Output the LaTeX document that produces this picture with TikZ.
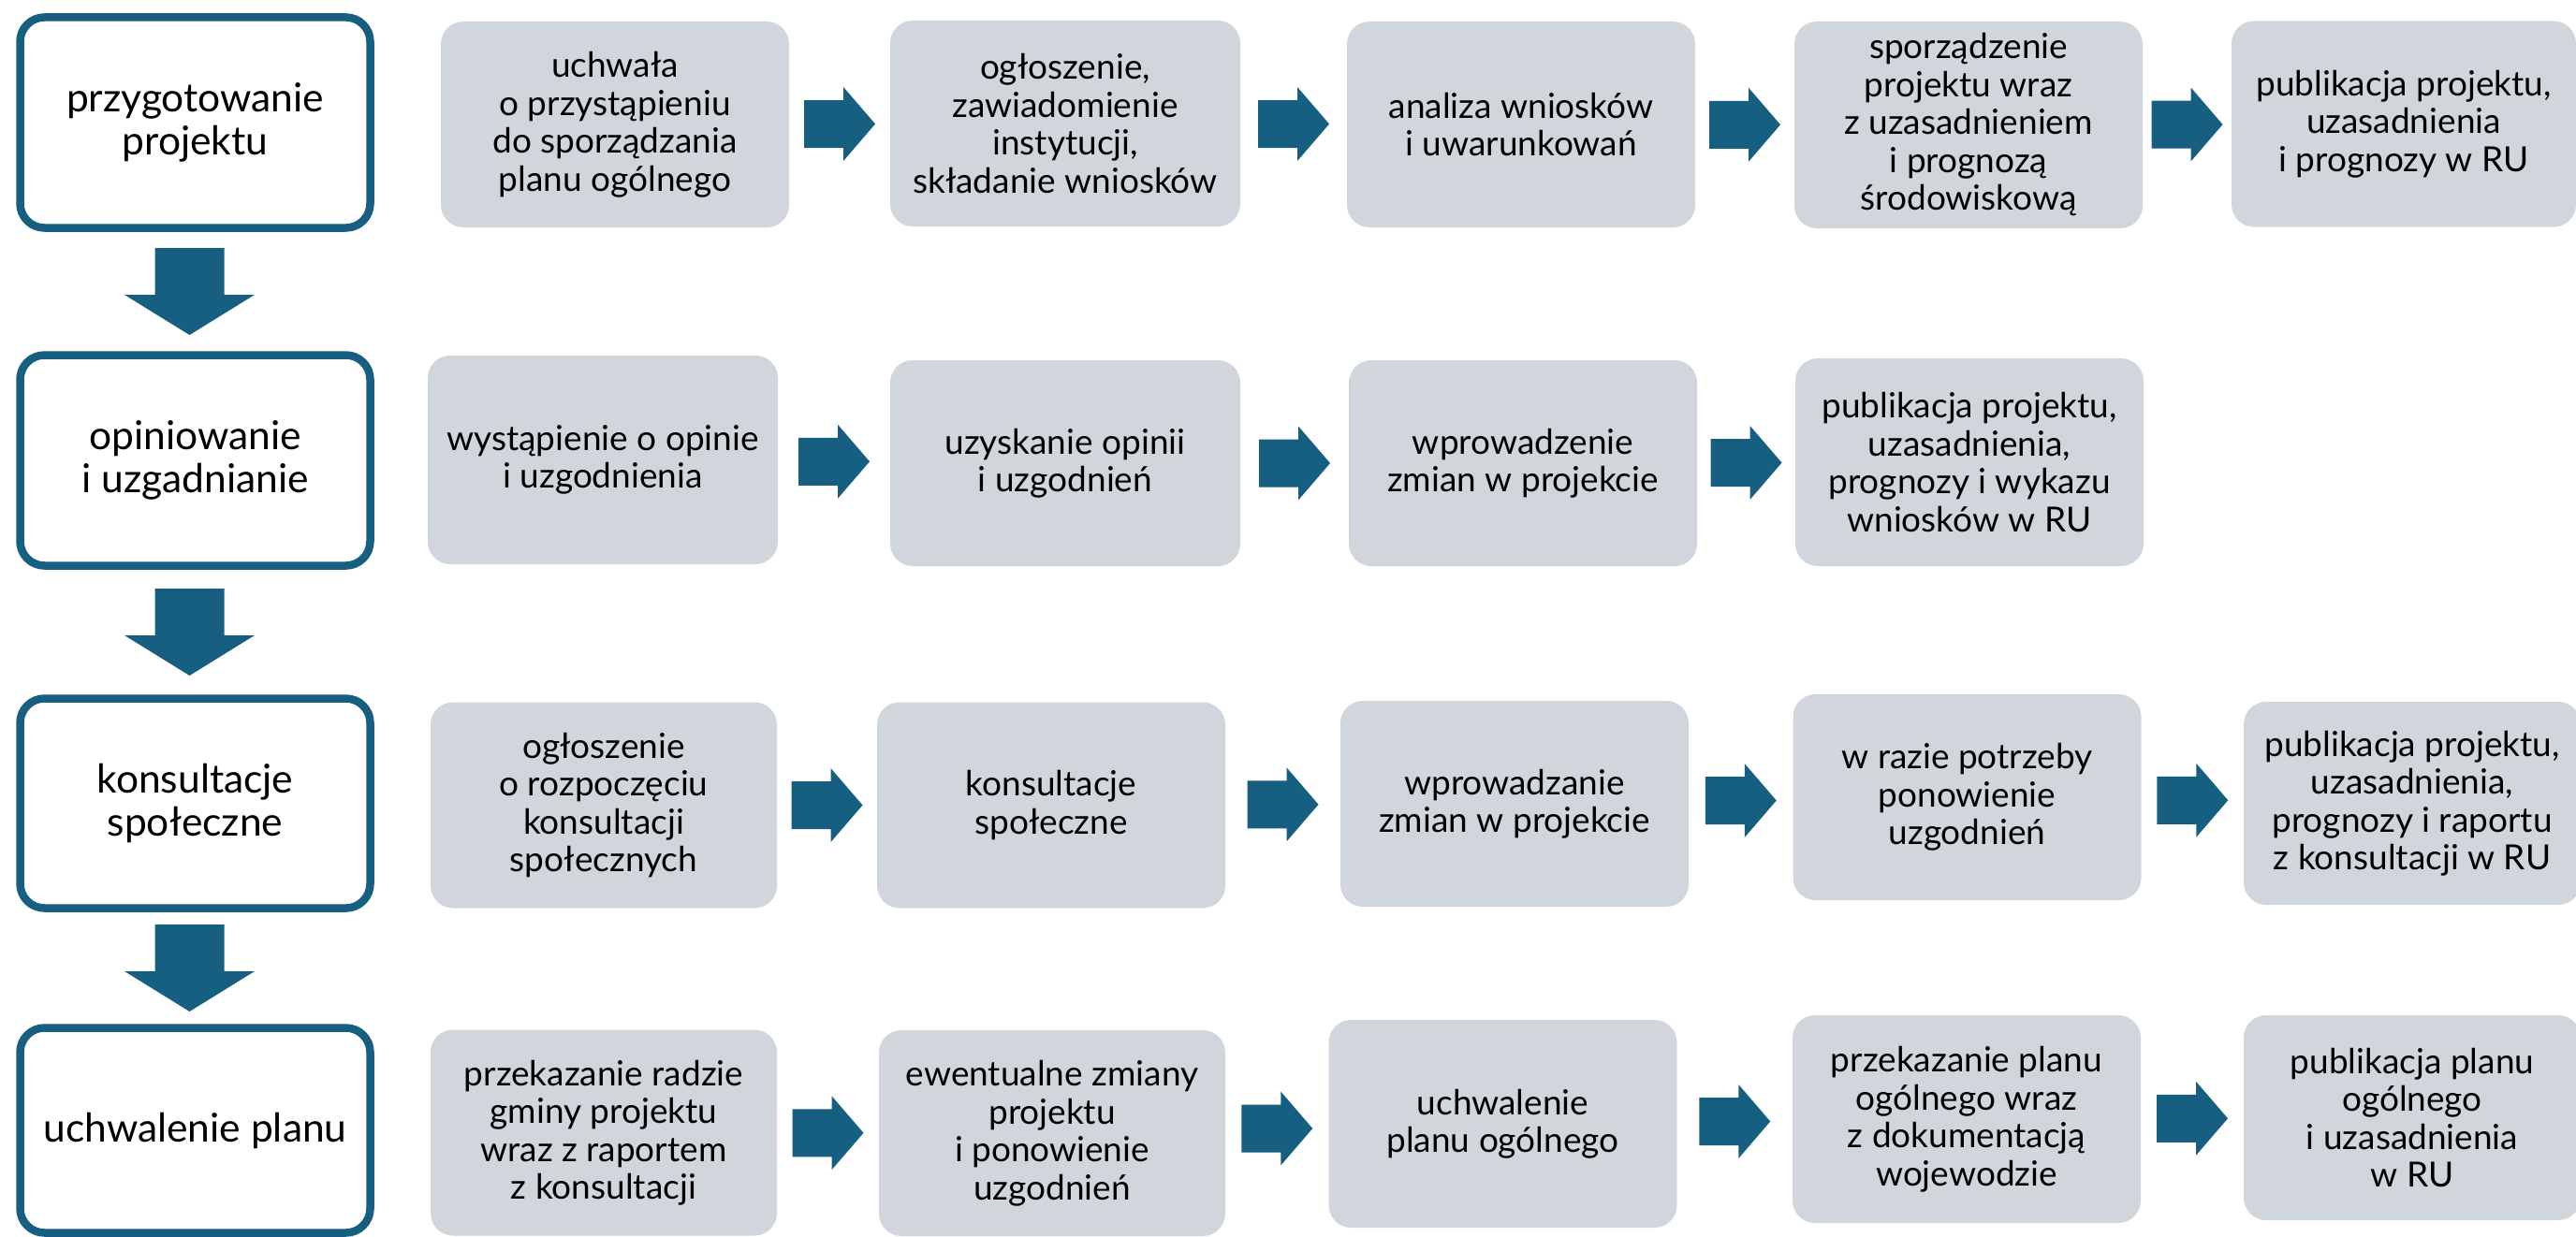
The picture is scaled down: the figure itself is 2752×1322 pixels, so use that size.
\documentclass[tikz,border=0pt]{standalone}
\usepackage{fontspec}
\setmainfont{Lato}
\usetikzlibrary{calc}
\definecolor{bblue}{RGB}{23,95,128}
\definecolor{gfill}{RGB}{209,213,220}
\tikzset{
  leftbox/.style={draw=bblue, line width=8.5pt, fill=white, rounded corners=26pt,
    minimum width=374pt, minimum height=225pt, inner sep=0pt, align=center,
    font=\fontsize{42.5}{46}\selectfont},
  gbox/.style={fill=gfill, rounded corners=24pt, inner sep=0pt, align=center,
    minimum width=372pt, minimum height=220pt,
    font=\fontsize{37}{40.5}\selectfont},
  rarr/.pic={\fill[bblue] (-38,-25.5) -- (4,-25.5) -- (4,-39.5) -- (38,0) -- (4,39.5) -- (4,25.5) -- (-38,25.5) -- cycle;},
  darr/.pic={\fill[bblue] (-37,-46.5) -- (37,-46.5) -- (37,3.5) -- (69.5,3.5) -- (0,46.5) -- (-69.5,3.5) -- (-37,3.5) -- cycle;}
}
\begin{document}
\begin{tikzpicture}[x=1pt,y=-1pt]
\clip (0,0) rectangle (2752,1322);
\fill[white] (0,0) rectangle (2752,1322);
% left column
\node[leftbox] (L1) at (208.5,131) {przygotowanie\\projektu};
\node[leftbox] (L2) at (208.5,492) {opiniowanie\\i uzgadnianie};
\node[leftbox, minimum height=224pt] (L3) at (208.5,858.5) {konsultacje\\społeczne};
\node[leftbox, minimum height=219pt] (L4) at (208.5,1208) {uchwalenie planu};
% row 1
\node[gbox] (g11) at (657,133) {uchwała\\o przystąpieniu\\do sporządzania\\planu ogólnego};
\node[gbox, minimum width=374pt] (g12) at (1138,132) {ogłoszenie,\\zawiadomienie\\instytucji,\\składanie wniosków};
\node[gbox] (g13) at (1625,133) {analiza wniosków\\i uwarunkowań};
\node[gbox, minimum height=221pt] (g14) at (2103,133.5) {sporządzenie\\projektu wraz\\z uzasadnieniem\\i prognozą\\środowiskową};
\node[gbox, minimum width=368pt] (g15) at (2568,132.5) {publikacja projektu,\\uzasadnienia\\i prognozy w RU};
% row 2
\node[gbox, minimum width=374pt, minimum height=223pt] (g21) at (644,491.5) {wystąpienie o opinie\\i uzgodnienia};
\node[gbox, minimum width=374pt] (g22) at (1138,495) {uzyskanie opinii\\i uzgodnień};
\node[gbox] (g23) at (1627,495) {wprowadzenie\\zmian w projekcie};
\node[gbox, minimum height=222pt] (g24) at (2104,494) {publikacja projektu,\\uzasadnienia,\\prognozy i wykazu\\wniosków w RU};
% row 3
\node[gbox, minimum width=370pt] (g31) at (645,860.5) {ogłoszenie\\o rozpoczęciu\\konsultacji\\społecznych};
\node[gbox] (g32) at (1123,860.5) {konsultacje\\społeczne};
\node[gbox] (g33) at (1618,859) {wprowadzanie\\zmian w projekcie};
\node[gbox] (g34) at (2101.5,852) {w razie potrzeby\\ponowienie\\uzgodnień};
\node[gbox, minimum width=360pt, minimum height=217pt] (g35) at (2577,858.5) {publikacja projektu,\\uzasadnienia,\\prognozy i raportu\\z konsultacji w RU};
% row 4
\node[gbox, minimum width=370pt] (g41) at (645,1210.5) {przekazanie radzie\\gminy projektu\\wraz z raportem\\z konsultacji};
\node[gbox, minimum width=370pt] (g42) at (1124,1211) {ewentualne zmiany\\projektu\\i ponowienie\\uzgodnień};
\node[gbox, minimum height=222pt] (g43) at (1605.5,1201) {uchwalenie\\planu ogólnego};
\node[gbox, minimum height=222pt] (g44) at (2101,1196) {przekazanie planu\\ogólnego wraz\\z dokumentacją\\wojewodzie};
\node[gbox, minimum width=360pt, minimum height=219pt] (g45) at (2577,1194.5) {publikacja planu\\ogólnego\\i uzasadnienia\\w RU};
% down arrows
\foreach \a/\b/\n in {L1/L2/d1, L2/L3/d2, L3/L4/d3}{
  \path (\a.south) -- coordinate[midway] (\n) (\b.north);
  \pic at ($(\n)+(-6,0)$) {darr};
}
% right arrows
\foreach \a/\b/\n in {g11/g12/r11, g12/g13/r12, g13/g14/r13, g14/g15/r14,
  g21/g22/r21, g22/g23/r22, g23/g24/r23,
  g31/g32/r31, g32/g33/r32, g33/g34/r33, g34/g35/r34,
  g41/g42/r41, g42/g43/r42, g43/g44/r43, g44/g45/r44}{
  \path (\a.east) -- coordinate[midway] (\n) (\b.west);
  \pic at (\n) {rarr};
}
\end{tikzpicture}
\end{document}
